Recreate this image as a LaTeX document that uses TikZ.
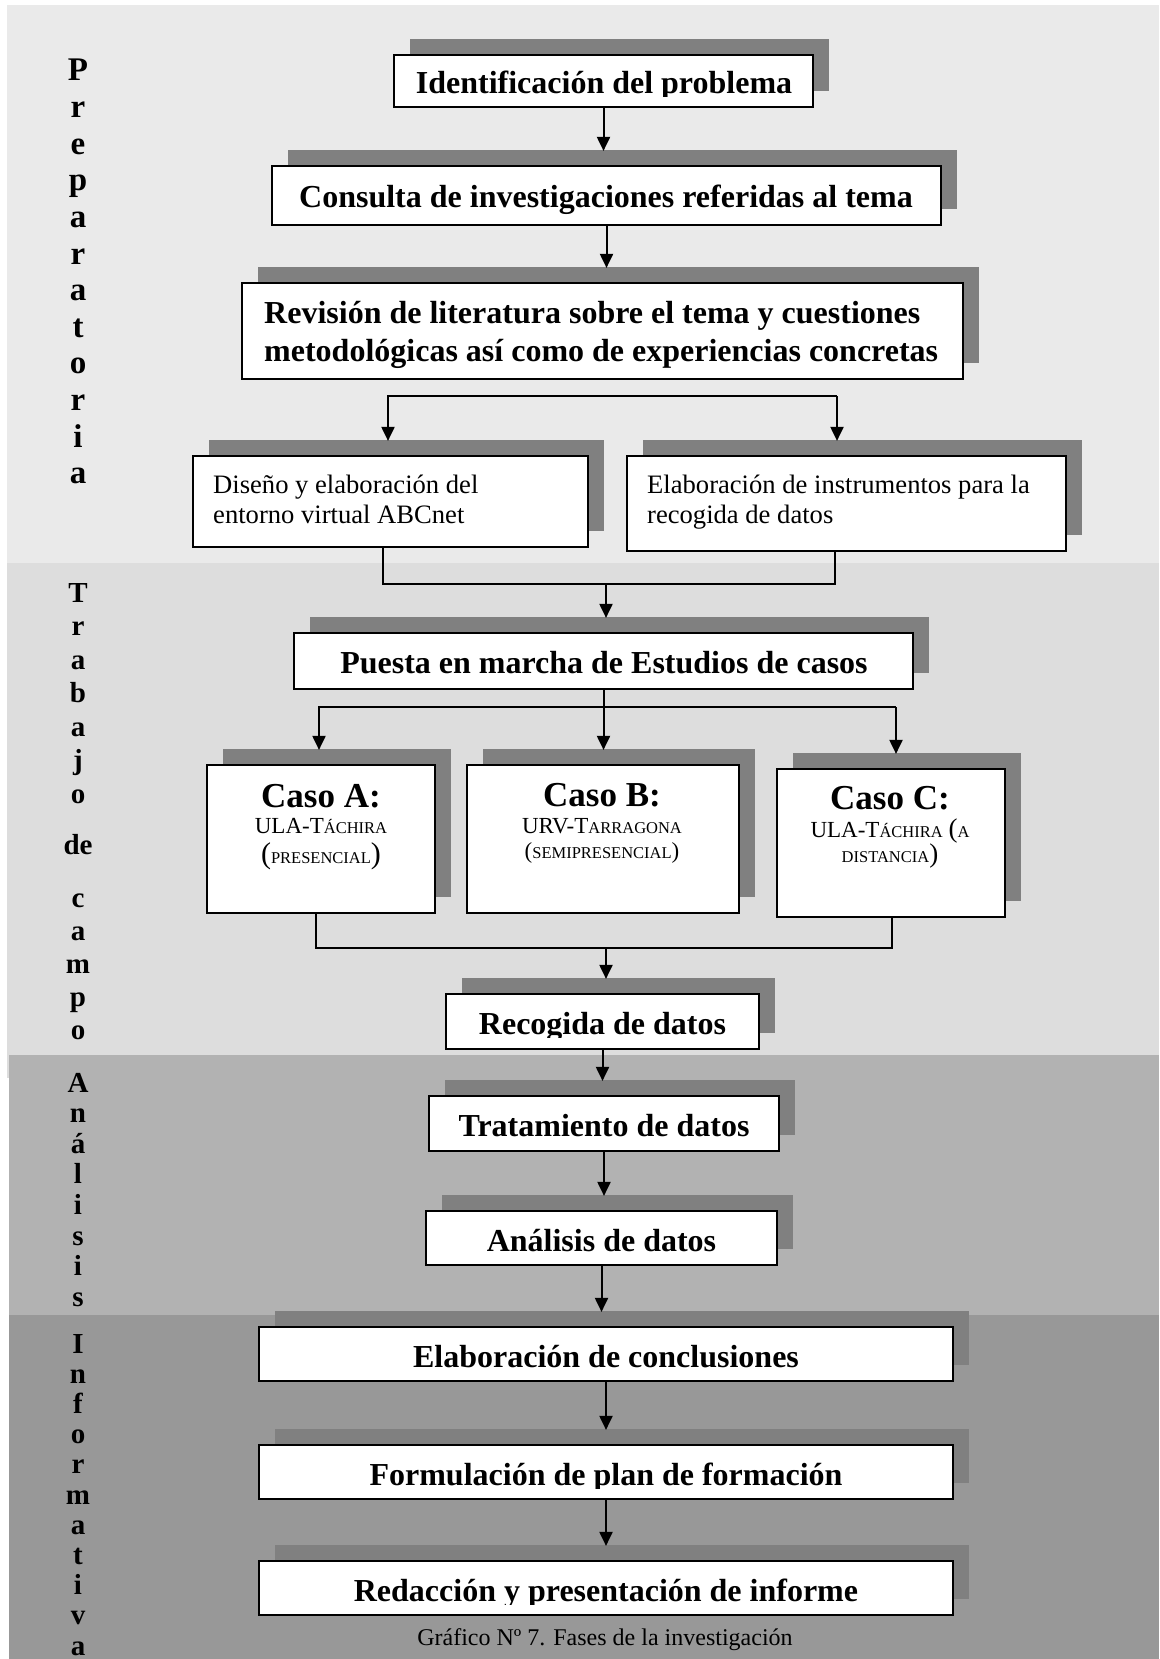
\documentclass[tikz,border=0pt]{standalone}
\usepackage{fontspec}
\setmainfont{Liberation Serif}
\usetikzlibrary{arrows.meta,shadows,calc}
\definecolor{bandA}{HTML}{EAEAEA}
\definecolor{bandB}{HTML}{DDDDDD}
\definecolor{bandC}{HTML}{B2B2B2}
\definecolor{bandD}{HTML}{989898}
\definecolor{shade}{HTML}{808080}
\newcommand\smc[1]{{\fontsize{16.5}{20}\selectfont #1}}
\newcommand\bigpar[1]{{\fontsize{30}{30}\selectfont #1}}
\newcommand\midpar[1]{{\fontsize{27}{30}\selectfont #1}}
\begin{document}
\begin{tikzpicture}[x=1pt,y=-1pt,
 box/.style={draw, line width=2.2pt, fill=white, inner sep=0pt,
   drop shadow={shadow xshift=16pt,shadow yshift=16pt,fill=shade,opacity=1}},
 btxt/.style={anchor=base, inner sep=0pt, font=\fontsize{32}{38}\selectfont\bfseries},
 ltxt/.style={anchor=base west, inner sep=0pt, font=\fontsize{32}{38}\selectfont\bfseries},
 rtxt/.style={anchor=base west, inner sep=0pt, font=\fontsize{26.6}{30}\selectfont},
 ctxt/.style={anchor=base, inner sep=0pt, font=\fontsize{23}{28}\selectfont},
 chead/.style={anchor=base, inner sep=0pt, font=\fontsize{35}{40}\selectfont\bfseries},
 conn/.style={line width=2pt, line join=miter},
 arr/.style={line width=2pt, line join=miter, -{Triangle[width=13pt,length=14pt]}, shorten >=-2pt},
 vlabA/.style={anchor=base, inner sep=0pt, font=\fontsize{33}{36}\selectfont\bfseries},
 vlab/.style={anchor=base, inner sep=0pt, font=\fontsize{29}{32}\selectfont\bfseries}
]
\useasboundingbox (0,0) rectangle (1159,1659);
% phase bands
\fill[bandA] (7,5) rectangle (1159,563);
\fill[bandB] (7,563) rectangle (1159,1078);
\fill[bandC] (9,1055) rectangle (1159,1315);
\fill[bandD] (9,1315) rectangle (1159,1659);

% vertical phase labels
\foreach \l/\y [count=\i] in {P/81,r/117.6,e/154.2,p/190.8,a/227.4,r/264,a/300.6,t/337.2,o/373.8,r/410.4,i/447,a/483.6}
  \node[vlabA] (pa\i) at (78,\y) {\l};
\foreach \l/\y [count=\i] in {T/602,r/635.5,a/669,b/702.5,a/736,j/769.5,o/803,de/854,c/907,a/940,m/973,p/1006,o/1039}
  \node[vlab] (pb\i) at (78,\y) {\l};
\foreach \l/\y [count=\i] in {A/1092,n/1122.6,á/1153.2,l/1183.8,i/1214.4,s/1245,i/1275.6,s/1306.2}
  \node[vlab] (pc\i) at (78,\y) {\l};
\foreach \l/\y [count=\i] in {I/1353,n/1383.2,f/1413.4,o/1443.6,r/1473.8,m/1504,a/1534.2,t/1564.4,i/1594.6,v/1624.8,a/1655}
  \node[vlab] (pd\i) at (78,\y) {\l};

% boxes
\node[box, minimum width=419pt, minimum height=52pt] (id) at (603.5,81) {};
\node[box, minimum width=669pt, minimum height=59pt] (con) at (606.5,195.5) {};
\node[box, minimum width=721pt, minimum height=96pt] (rev) at (602.5,331) {};
\node[box, minimum width=395pt, minimum height=91pt] (dis) at (390.5,501.5) {};
\node[box, minimum width=439pt, minimum height=95pt] (ins) at (846.5,503.5) {};
\node[box, minimum width=619pt, minimum height=56pt] (pue) at (603.5,661) {};
\node[box, minimum width=228pt, minimum height=148pt] (ca) at (321,839) {};
\node[box, minimum width=272pt, minimum height=148pt] (cb) at (603,839) {};
\node[box, minimum width=228pt, minimum height=148pt] (cc) at (891,843) {};
\node[box, minimum width=313pt, minimum height=55pt] (rec) at (602.5,1021.5) {};
\node[box, minimum width=350pt, minimum height=55pt] (tra) at (604,1123.5) {};
\node[box, minimum width=351pt, minimum height=54pt] (ana) at (601.5,1238) {};
\node[box, minimum width=694pt, minimum height=54pt] (ecl) at (606,1354) {};
\node[box, minimum width=694pt, minimum height=54pt] (for) at (606,1472) {};
\node[box, minimum width=694pt, minimum height=54pt] (red) at (606,1588) {};

% texts
\begin{scope}
  \clip (id.north west) rectangle (813,97);
  \node[btxt] (idt) at (604,94) {Identificación del problema};
\end{scope}
\node[btxt] (cont) at (606,207.5) {Consulta de investigaciones referidas al tema};
\node[ltxt] (rev1) at (264,323) {Revisión de literatura sobre el tema y cuestiones};
\node[ltxt] (rev2) at (264,361) {metodológicas así como de experiencias concretas};
\node[rtxt] (dis1) at (213,493) {Diseño y elaboración del};
\node[rtxt] (dis2) at (213,523) {entorno virtual ABCnet};
\node[rtxt] (ins1) at (647,493) {Elaboración de instrumentos para la};
\node[rtxt] (ins2) at (647,523) {recogida de datos};
\node[btxt] (puet) at (604,673.5) {Puesta en marcha de Estudios de casos};
\node[chead] (cat) at (321,807) {Caso A:};
\node[ctxt] (ca1) at (321,833) {ULA-T\smc{ÁCHIRA}};
\node[ctxt] (ca2) at (321,863) {\bigpar{(}\smc{PRESENCIAL}\bigpar{)}};
\node[chead] (cbt) at (602,806) {Caso B:};
\node[ctxt] (cb1) at (602,833) {URV-T\smc{ARRAGONA}};
\node[ctxt] (cb2) at (602,858) {(\smc{SEMIPRESENCIAL})};
\node[chead] (cct) at (890,809) {Caso C:};
\node[ctxt] (cc1) at (890,837) {ULA-T\smc{ÁCHIRA} \midpar{(}\smc{A}};
\node[ctxt] (cc2) at (890,862) {\smc{DISTANCIA}\midpar{)}};
\begin{scope}
  \clip (rec.north west) rectangle (759,1037);
  \node[btxt] (rect) at (602.5,1034) {Recogida de datos};
\end{scope}
\node[btxt] (trat) at (604,1136.5) {Tratamiento de datos};
\node[btxt] (anat) at (601.5,1251) {Análisis de datos};
\node[btxt] (eclt) at (606,1367) {Elaboración de conclusiones};
\begin{scope}
  \clip (for.north west) rectangle (953,1488);
  \node[btxt] (fort) at (606,1485) {Formulación de plan de formación};
\end{scope}
\begin{scope}
  \clip (red.north west) rectangle (953,1604);
  \node[btxt] (redt) at (606,1601) {Redacción y presentación de informe};
\end{scope}
\node[anchor=base, inner sep=0pt, font=\fontsize{24}{28}\selectfont] (cap) at (605,1645) {Gráfico Nº 7. Fases de la investigación};

% connectors
\draw[arr] (id.south) -- ($(id.south |- con.north)+(0,-16)$);
\draw[arr] (con.south) -- ($(con.south |- rev.north)+(0,-16)$);
\coordinate (b1) at (388,396);
\coordinate (b2) at (837,396);
\draw[arr] (b2) -- (b1) -- ($(b1 |- dis.north)+(0,-16)$);
\draw[arr] (b2) -- ($(b2 |- ins.north)+(0,-16)$);
\coordinate (j1) at (383,584);
\coordinate (j2) at (835,584);
\coordinate (jm) at (606,584);
\draw[conn] (j1 |- dis.south) -- (j1) -- (j2) -- (j2 |- ins.south);
\draw[arr] (jm) -- ($(jm |- pue.north)+(0,-16)$);
\coordinate (k1) at (319,707);
\coordinate (k2) at (896,707);
\draw[arr] (pue.south) -- ($(pue.south |- cb.north)+(0,-16)$);
\draw[arr] (k2) -- (k1) -- ($(k1 |- ca.north)+(0,-16)$);
\draw[arr] (k2) -- ($(k2 |- cc.north)+(0,-16)$);
\coordinate (m1) at (316,948);
\coordinate (m2) at (892,948);
\coordinate (mm) at (606,948);
\draw[conn] (m1 |- ca.south) -- (m1) -- (m2) -- (m2 |- cc.south);
\draw[arr] (mm) -- ($(mm |- rec.north)+(0,-16)$);
\draw[arr] (rec.south) -- ($(rec.south |- tra.north)+(0,-16)$);
\draw[arr] (tra.south) -- ($(tra.south |- ana.north)+(0,-16)$);
\draw[arr] (ana.south) -- ($(ana.south |- ecl.north)+(0,-16)$);
\draw[arr] (ecl.south) -- ($(ecl.south |- for.north)+(0,-16)$);
\draw[arr] (for.south) -- ($(for.south |- red.north)+(0,-16)$);
\end{tikzpicture}
\end{document}
